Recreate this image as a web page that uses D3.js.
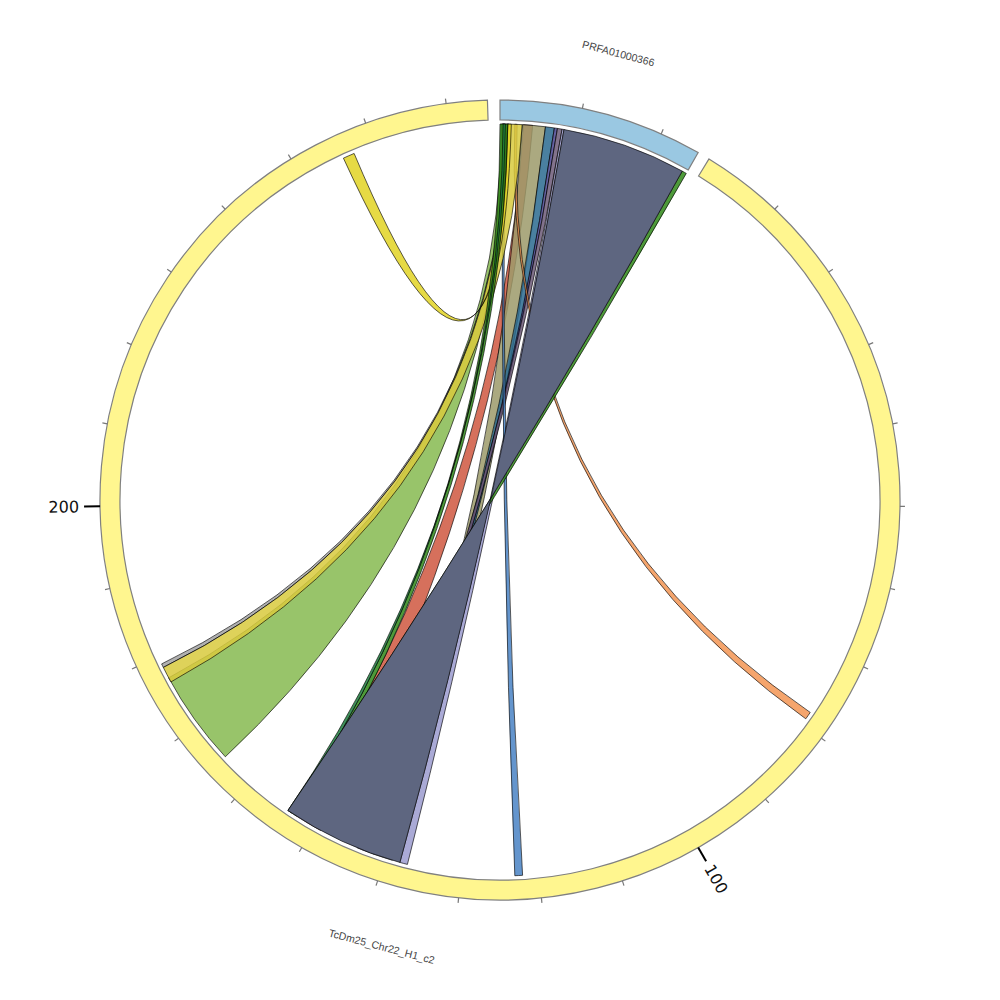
<!DOCTYPE html>
<html>
<head>
<meta charset="utf-8">
<script src="https://cdn.jsdelivr.net/npm/d3@7"></script>
<style>body{margin:0;background:#fff}</style>
</head>
<body>
<script>
// segments (ideogram ring)
const segNames = ["PRFA01000366", "TcDm25_Chr22_H1_c2"];
const segLengths = [25, 275];
const segColors = ["#9ac8e2", "#fff68f"];
const tickStep = 10;
const labelTicks = [100, 200];

// links: source positions on PRFA01000366, target positions on TcDm25_Chr22_H1_c2
const srcStart = [3.0, 2.85, 5.85, 7.0, 7.4, 8.0, 1.9, 0.3, 0.2, 0.9, 1.0, 1.0, 0.0, 0.4, 24.4, 8.25];
const srcEnd   = [4.2, 5.85, 7.0, 7.4, 8.0, 8.25, 2.2, 0.6, 1.0, 1.15, 2.85, 1.45, 1.0, 0.7, 25.0, 24.4];
const tgtStart = [149.0, 139.0, 141.5, 142.5, 143.0, 137.0, 78.2, 122.1, 164.5, 178.5, 176.4, 255.8, 152.6, 153.4, 153.3, 138.0];
const tgtEnd   = [152.8, 141.5, 142.5, 143.0, 143.8, 138.0, 79.2, 123.1, 177.0, 179.0, 178.5, 257.3, 153.4, 153.9, 153.9, 153.9];
const twisted  = [false, false, false, false, false, false, false, false, false, false, false, false, false, true, false, true];
const linkColors = ["#d6705c", "#aba980", "#4a80a0", "#6460a0", "#82738c", "#aaaad6", "#f5a56e", "#6496cd",
  "#98c46a", "#b0b0b0", "#ded25a", "#e6da46", "#4e9a3a", "#3f8f5a", "#4e9a3a", "#5e6680"];

const width = 1000, height = 1000;
const cx = 500, cy = 500;
const rIn = 380, rOut = 400, rLink = 376;
const gap = 1.8 * Math.PI / 180;
const total = d3.sum(segLengths);
const perUnit = (2 * Math.PI - gap * segLengths.length) / total;

// one angle scale per segment
let start = 0;
const scales = segLengths.map(len => {
  const s = d3.scaleLinear().domain([0, len]).range([start, start + len * perUnit]);
  start += len * perUnit + gap;
  return s;
});

const svg = d3.select("body").append("svg")
  .attr("width", width)
  .attr("height", height)
  .style("background", "#fff");
const g = svg.append("g").attr("transform", "translate(" + cx + "," + cy + ")");

// links
const alpha = 0.85;
function solid(hex, a) {
  const c = d3.rgb(hex);
  const f = v => Math.max(0, Math.min(255, (v - 255 * (1 - a)) / a));
  return d3.rgb(f(c.r), f(c.g), f(c.b)).toString();
}
function pt(a) { return [rLink * Math.sin(a), -rLink * Math.cos(a)]; }
function ribbon(s0, s1, t0, t1, twist) {
  const h = Math.PI / 2;
  const p = d3.path();
  p.moveTo(...pt(s0));
  p.arc(0, 0, rLink, s0 - h, s1 - h, false);
  if (twist) {
    p.quadraticCurveTo(0, 0, ...pt(t1));
    p.arc(0, 0, rLink, t1 - h, t0 - h, true);
  } else {
    p.quadraticCurveTo(0, 0, ...pt(t0));
    p.arc(0, 0, rLink, t0 - h, t1 - h, false);
  }
  p.quadraticCurveTo(0, 0, ...pt(s0));
  p.closePath();
  return p.toString();
}

const links = srcStart.map((d, i) => ({
  s0: scales[0](d), s1: scales[0](srcEnd[i]),
  t0: scales[1](tgtStart[i]), t1: scales[1](tgtEnd[i]),
  twist: twisted[i], color: linkColors[i],
  wide: tgtEnd[i] - tgtStart[i] > 10 && srcEnd[i] - srcStart[i] > 10
}));

g.append("g").selectAll("path")
  .data(links)
  .enter().append("path")
  .attr("d", d => ribbon(d.s0, d.s1, d.t0, d.t1, d.twist))
  .style("fill", d => d.wide ? d.color : solid(d.color, alpha))
  .style("fill-opacity", d => d.wide ? 1 : alpha)
  .style("stroke", "#000")
  .style("stroke-width", 0.8)
  .style("stroke-opacity", 0.8);

// ideogram ring
const arc = d3.arc().innerRadius(rIn).outerRadius(rOut);
g.append("g").selectAll("path")
  .data(segLengths)
  .enter().append("path")
  .attr("d", (d, i) => arc({startAngle: scales[i](0), endAngle: scales[i](d)}))
  .style("fill", (d, i) => segColors[i])
  .style("stroke", "#808080")
  .style("stroke-width", 1.2);

// ticks
segLengths.forEach((len, i) => {
  const vals = d3.range(tickStep, len + 0.001, tickStep);
  const major = i === 1 ? labelTicks : [];
  const tg = g.append("g");
  tg.selectAll("line")
    .data(vals)
    .enter().append("line")
    .attr("transform", d => "rotate(" + (scales[i](d) * 180 / Math.PI) + ")")
    .attr("x1", 0).attr("x2", 0)
    .attr("y1", -rOut)
    .attr("y2", d => major.includes(d) ? -rOut - 16 : -rOut - 5)
    .style("stroke", d => major.includes(d) ? "#000" : "#777")
    .style("stroke-width", d => major.includes(d) ? 2 : 1.2);
  tg.selectAll("text")
    .data(major)
    .enter().append("text")
    .attr("transform", d => {
      const deg = scales[i](d) * 180 / Math.PI;
      return "rotate(" + (deg - 90) + ") translate(" + (rOut + 21) + ",0)" + (deg > 180 ? " rotate(180)" : "");
    })
    .attr("dy", "0.35em")
    .attr("text-anchor", d => scales[i](d) > Math.PI ? "end" : "start")
    .style("font-family", "DejaVu Sans")
    .style("font-size", "16px")
    .style("fill", "#111")
    .text(d => d);
});

// segment names
g.append("g").selectAll("text")
  .data(segNames)
  .enter().append("text")
  .attr("transform", (d, i) => {
    const mid = (scales[i](0) + scales[i](segLengths[i])) / 2;
    const deg = mid * 180 / Math.PI;
    const x = 462 * Math.sin(mid), y = -462 * Math.cos(mid);
    const rot = (deg > 90 && deg < 270) ? deg - 180 : deg;
    return "translate(" + x + "," + y + ") rotate(" + rot + ")";
  })
  .attr("text-anchor", "middle")
  .attr("dy", "0.35em")
  .style("font-family", "Liberation Sans")
  .style("font-size", "10.5px")
  .style("fill", "#444")
  .text(d => d);
</script>
</body>
</html>
